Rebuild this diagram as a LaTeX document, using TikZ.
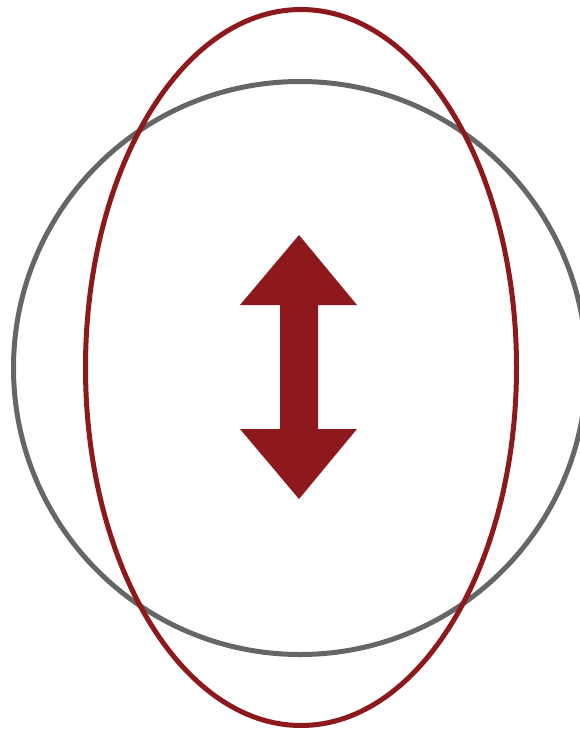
\documentclass[tikz,border=0pt]{standalone}
\definecolor{ringgray}{HTML}{666666}
\definecolor{darkred}{HTML}{8E191C}
\begin{document}
\begin{tikzpicture}[x=1pt,y=-1pt,
  ring/.style={draw=ringgray,line width=5pt},
  oval/.style={draw=darkred,line width=5pt},
  dblarrow/.style={fill=darkred,draw=none}]
\useasboundingbox (0,0) rectangle (580,731);
\clip (0,0) rectangle (580,731);
\node[circle,ring,minimum size=573pt,inner sep=0pt] (circ) at (300,368) {};
\draw[oval] (301,367.5) ellipse [x radius=215.5, y radius=358];
\fill[dblarrow] (299,235) -- (357,305) -- (318,305) -- (318,429) -- (357,429)
  -- (299,499) -- (240,429) -- (280,429) -- (280,305) -- (240,305) -- cycle;
\end{tikzpicture}
\end{document}
